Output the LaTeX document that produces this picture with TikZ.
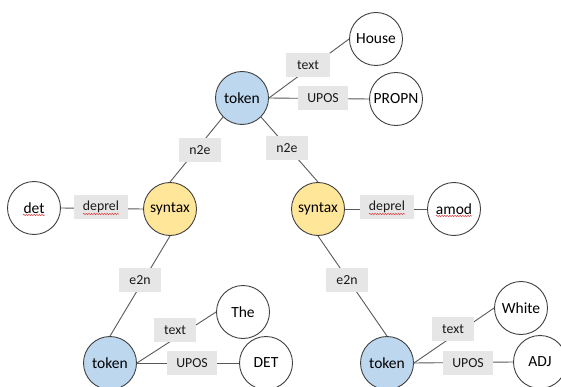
\documentclass[tikz,border=0pt]{standalone}
\usepackage{fontspec}
\setmainfont{Carlito}
\usetikzlibrary{decorations.pathmorphing}

\definecolor{tokfill}{HTML}{BDD7EE}
\definecolor{synfill}{HTML}{FFE699}
\definecolor{lblfill}{HTML}{E7E6E6}
\definecolor{rim}{HTML}{404040}
\definecolor{wire}{HTML}{595959}
\definecolor{squigred}{HTML}{E04040}

\tikzset{
  circ/.style={circle, draw=rim, line width=0.9pt, minimum size=53pt, inner sep=0pt,
               font=\fontsize{15.5}{18}\selectfont, fill=white},
  tok/.style={circ, fill=tokfill},
  syn/.style={circ, fill=synfill},
  lbl/.style={fill=lblfill, inner xsep=0pt, inner ysep=0pt, minimum height=24pt,
              font=\fontsize{13.8}{16}\selectfont, text=black!90},
  wirel/.style={draw=wire, line width=0.9pt},
  squig/.style={draw=squigred, line width=0.5pt,
                decorate, decoration={snake, amplitude=0.7pt, segment length=2.6pt}}
}

\begin{document}
\begin{tikzpicture}[x=1pt, y=-1pt]
\useasboundingbox (0,0) rectangle (561,387);

% word nodes
\node[tok]  (tokT)  at (242,98)  {token};
\node[circ] (house) at (376,39)  {House};
\node[circ] (propn) at (396,99)  {PROPN};
\node[syn]  (synL)  at (170,209) {syntax};
\node[syn]  (synR)  at (318,209) {syntax};
\node[circ] (det)   at (34,208)  {det};
\node[circ] (amod)  at (454,209) {amod};
\node[tok]  (tokL)  at (110,363) {token};
\node[circ] (the)   at (243,312) {The};
\node[circ] (detw)  at (266,363) {DET};
\node[tok]  (tokR)  at (387,363) {token};
\node[circ] (white) at (521,308) {White};
\node[circ] (adj)   at (540,362) {ADJ};

% connectors
\draw[wirel] (tokT.east) -- (house.west);
\draw[wirel] (tokT.east) -- (propn.west);
\draw[wirel] (tokT.south west) -- (synL.north);
\draw[wirel] (tokT.south east) -- (synR.north);
\draw[wirel] (det.east) -- (synL.west);
\draw[wirel] (synR.east) -- (amod.west);
\draw[wirel] (synL.south) -- (tokL.north);
\draw[wirel] (synR.south) -- (tokR.north);
\draw[wirel] (tokL.east) -- (the.west);
\draw[wirel] (tokL.east) -- (detw.west);
\draw[wirel] (tokR.east) -- (white.west);
\draw[wirel] (tokR.east) -- (adj.west);

% edge labels
\node[lbl, minimum width=44pt] (l1)  at (308,65)  {text};
\node[lbl, minimum width=50pt] (l2)  at (323,98)  {UPOS};
\node[lbl, minimum width=42pt] (l3)  at (200,150) {n2e};
\node[lbl, minimum width=42pt] (l4)  at (287,148) {n2e};
\node[lbl, minimum width=54pt] (l5)  at (101,207) {deprel};
\node[lbl, minimum width=54pt] (l6)  at (387,207) {deprel};
\node[lbl, minimum width=42pt] (l7)  at (140,280) {e2n};
\node[lbl, minimum width=42pt] (l8)  at (347,280) {e2n};
\node[lbl, minimum width=42pt] (l9)  at (175,330) {text};
\node[lbl, minimum width=50pt] (l10) at (192,363) {UPOS};
\node[lbl, minimum width=42pt] (l11) at (453,329) {text};
\node[lbl, minimum width=50pt] (l12) at (468,363) {UPOS};

% spell-check underlines
\draw[squig] ([xshift=-11pt,yshift=-7pt]det.center) -- ([xshift=11pt,yshift=-7pt]det.center);
\draw[squig] ([xshift=-18pt,yshift=-7pt]l5.center) -- ([xshift=18pt,yshift=-7pt]l5.center);
\draw[squig] ([xshift=-18pt,yshift=-7pt]l6.center) -- ([xshift=18pt,yshift=-7pt]l6.center);
\draw[squig] ([xshift=-18pt,yshift=-7pt]amod.center) -- ([xshift=18pt,yshift=-7pt]amod.center);
\end{tikzpicture}
\end{document}
